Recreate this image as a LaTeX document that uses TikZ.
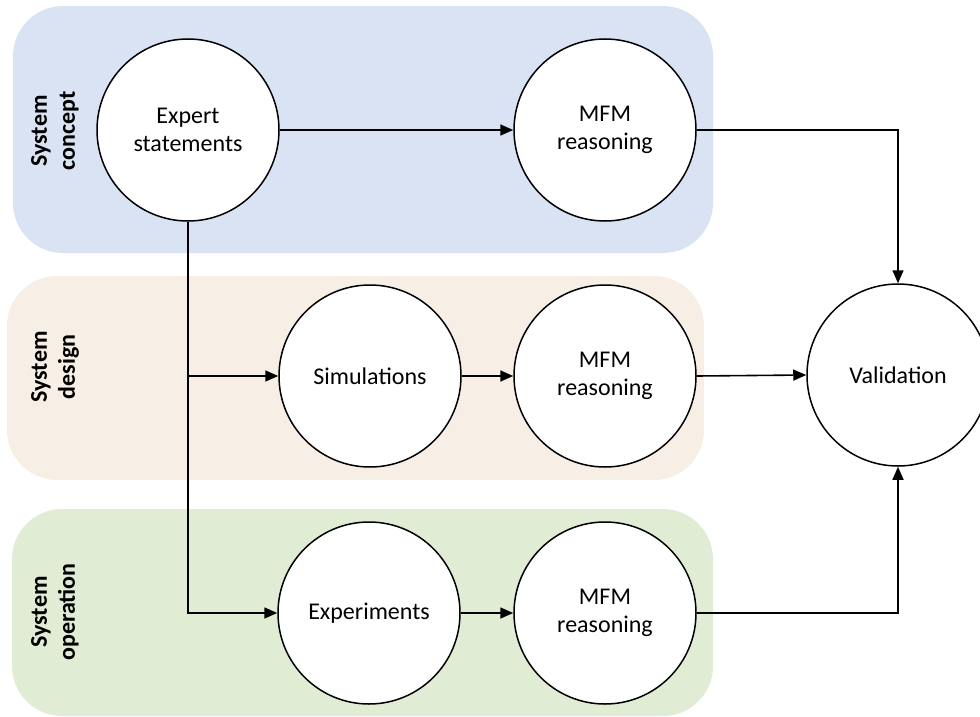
\documentclass[tikz,border=0pt]{standalone}
\usepackage{fontspec}
\setmainfont{Carlito}
\usetikzlibrary{arrows.meta}
\definecolor{bandblue}{HTML}{DAE3F3}
\definecolor{bandbeige}{HTML}{F7EEE5}
\definecolor{bandgreen}{HTML}{E1ECD5}
\tikzset{
  band/.style={rounded corners=50pt, draw=none},
  proc/.style={circle, draw, fill=white, line width=1.5pt, minimum size=182pt, inner sep=0pt, align=center,
    font=\fontsize{24}{28.7}\selectfont},
  lane/.style={rotate=90, align=center, font=\fontsize{24}{28}\selectfont\bfseries},
  arr/.style={line width=1.6pt, -{Triangle[length=13pt,width=11pt]}},
  plain/.style={line width=1.6pt}
}
\begin{document}
\begin{tikzpicture}[x=1pt,y=-1pt]
\useasboundingbox (0,0) rectangle (980,717);
% bands
\fill[band, bandblue] (13,6) rectangle (713,253);
\fill[band, bandbeige] (7,276) rectangle (704,480);
\fill[band, bandgreen] (12,509) rectangle (713,716);
% lane labels
\node[lane] (lconcept) at (55,131) {System\\concept};
\node[lane] (ldesign) at (55,367) {System\\design};
\node[lane] (loper) at (55,612) {System\\operation};
% process circles
\node[proc] (expert) at (188,130) {Expert\\statements};
\node[proc] (mfma) at (605,130) {MFM\\reasoning};
\node[proc] (sim) at (370,376) {Simulations};
\node[proc] (mfmb) at (605,376) {MFM\\reasoning};
\node[proc] (expm) at (369,613) {Experiments};
\node[proc] (mfmc) at (605,613) {MFM\\reasoning};
\node[proc] (valid) at (898,375) {Validation};
% connectors
\draw[arr] (expert.east) -- (mfma.west);
\draw[arr] (mfma.east) -| (valid.north);
\draw[arr] (expert.south) |- (expm.west);
\coordinate (branch) at (expert.south |- sim.west);
\draw[arr] (branch) -- (sim.west);
\draw[arr] (sim.east) -- (mfmb.west);
\draw[arr] (mfmb.east) -- (valid.west);
\draw[arr] (expm.east) -- (mfmc.west);
\draw[arr] (mfmc.east) -| (valid.south);
\end{tikzpicture}
\end{document}
